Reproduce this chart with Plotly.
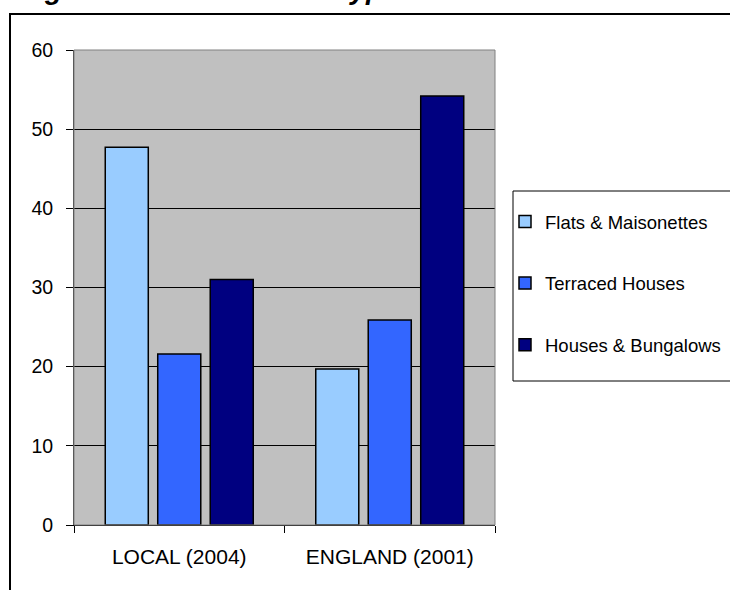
import plotly.graph_objects as go

# Housing stock composition (% of dwellings)
categories = ["LOCAL (2004)", "ENGLAND (2001)"]
series_names = ["Flats & Maisonettes", "Terraced Houses", "Houses & Bungalows"]
flats = [47.7, 19.7]
terraced = [21.6, 25.9]
houses = [31.0, 54.2]
y_ticks = [0, 10, 20, 30, 40, 50, 60]

colors = ["#99CCFF", "#3366FF", "#000080"]
FONT = "Liberation Sans, Arial, sans-serif"

W, H = 730, 590
ML, MR, MT, MB = 74, W - 495, 50, H - 525
PW, PH = W - ML - MR, H - MT - MB


def px_x(p):
    return (p - ML) / PW


def px_y(p):
    return (H - MB - p) / PH


fig = go.Figure()
for i, (name, vals) in enumerate(zip(series_names, [flats, terraced, houses])):
    fig.add_trace(go.Bar(
        x=categories, y=vals, name=name,
        marker=dict(color=colors[i], line=dict(color="black", width=1.5)),
        legendgroup=f"g{i}",
    ))

# outer chart frame, partly running off the page
fig.add_shape(type="rect", xref="paper", yref="paper",
              x0=px_x(10), x1=px_x(745), y0=px_y(605), y1=px_y(14),
              line=dict(color="black", width=2), fillcolor="rgba(0,0,0,0)",
              layer="above")
# plot-area outline
fig.add_shape(type="rect", xref="paper", yref="paper",
              x0=0, x1=1, y0=0, y1=1,
              line=dict(color="#808080", width=1), fillcolor="rgba(0,0,0,0)",
              layer="above")
# legend box
fig.add_shape(type="rect", xref="paper", yref="paper",
              x0=px_x(513), x1=px_x(745), y0=px_y(381), y1=px_y(191),
              line=dict(color="black", width=1), fillcolor="white",
              layer="above")

# heading, mostly above the visible page
fig.add_annotation(text="<b><i>Figure 4.2: Local Stock Type</i></b>",
                   xref="paper", yref="paper", x=px_x(18), y=px_y(7.2),
                   xanchor="left", yanchor="bottom", showarrow=False,
                   font=dict(family=FONT, size=28, color="black"))

fig.update_layout(
    width=W, height=H,
    margin=dict(l=ML, r=MR, t=MT, b=MB, pad=0, autoexpand=False),
    paper_bgcolor="white", plot_bgcolor="#C0C0C0",
    barmode="group", bargap=0.252, bargroupgap=0.18,
    font=dict(family=FONT, color="black"),
    showlegend=True,
    legend=dict(x=px_x(505), y=px_y(203), xanchor="left", yanchor="top",
                bgcolor="rgba(0,0,0,0)", borderwidth=0,
                font=dict(family=FONT, size=18.5, color="black"),
                tracegroupgap=34.5, traceorder="grouped"),
    xaxis=dict(type="category", showline=True, linecolor="black", linewidth=1,
               ticks="outside", tickson="boundaries", ticklen=7,
               tickcolor="black", tickwidth=1, ticklabelstandoff=13,
               tickfont=dict(family=FONT, size=21, color="black"),
               showgrid=False, fixedrange=True),
    yaxis=dict(range=[0, 60], tickvals=y_ticks, showline=True,
               linecolor="#333333", linewidth=1,
               ticks="outside", ticklen=7, tickcolor="black", tickwidth=1,
               ticklabelstandoff=9,
               tickfont=dict(family=FONT, size=19.5, color="black"),
               showgrid=True, gridcolor="black", gridwidth=1,
               zeroline=False, fixedrange=True),
)

fig.write_html("out.html")
